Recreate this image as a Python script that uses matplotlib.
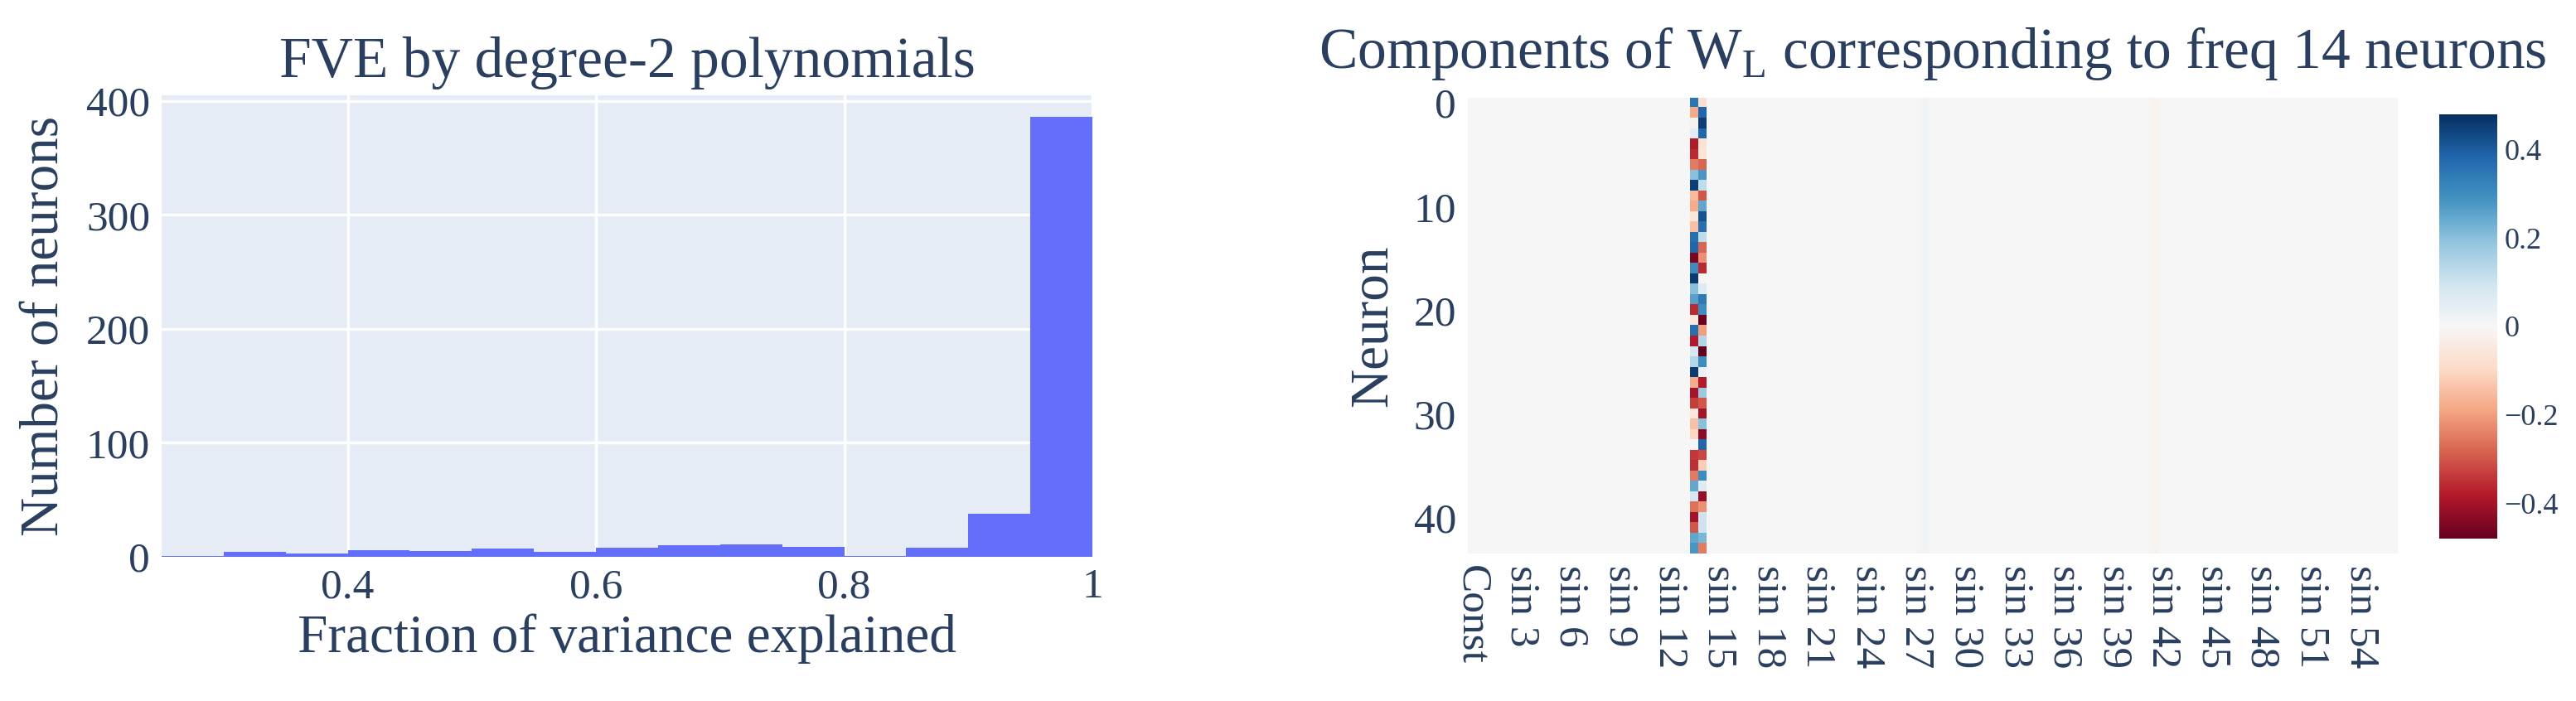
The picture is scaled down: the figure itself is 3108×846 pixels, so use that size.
import numpy as np
import matplotlib
matplotlib.use("Agg")
import matplotlib.pyplot as plt

plt.rcParams['font.family'] = ['Liberation Serif', 'DejaVu Serif']
plt.rcParams['mathtext.fontset'] = 'custom'
plt.rcParams['mathtext.rm'] = 'Liberation Serif'
TXT = '#2A3F5F'

# histogram data
bin_edges = [0.25, 0.30, 0.35, 0.40, 0.45, 0.50, 0.55, 0.60, 0.65, 0.70, 0.75, 0.80, 0.85, 0.90, 0.95, 1.00]
bin_counts = [1, 4, 3, 6, 5, 7, 4, 8, 10, 11, 9, 1, 8, 38, 386]

# heatmap data
n_neurons = 44
n_freq = 56
col_labels = ['Const'] + [f'{t} {k}' for k in range(1, n_freq + 1) for t in ('cos', 'sin')]
cos14 = [0.35, -0.18, -0.02, 0.05, -0.38, -0.36, -0.25, 0.2, 0.45, -0.15, -0.18, -0.06, -0.14, 0.36,
         0.38, -0.45, 0.3, 0.46, 0.2, 0.26, -0.36, -0.05, 0.36, -0.38, 0.08, 0.14, 0.46, -0.18,
         -0.4, -0.33, -0.05, -0.14, -0.1, 0.0, -0.34, -0.35, -0.25, 0.25, 0.08, -0.26, -0.4, -0.3, 0.25, 0.28]
sin14 = [-0.08, 0.38, 0.45, 0.38, -0.07, -0.06, -0.28, 0.28, 0.12, -0.3, 0.25, 0.42, 0.36, 0.12,
         -0.28, -0.22, -0.36, -0.01, 0.06, 0.34, 0.3, -0.47, -0.2, 0.14, -0.48, 0.3, 0.03, -0.38,
         0.18, -0.3, -0.4, 0.2, -0.43, 0.38, -0.32, -0.12, 0.3, 0.06, -0.42, -0.22, 0.1, 0.1, 0.22, -0.25]
faint_cols = {'cos 28': 0.012, 'sin 27': -0.005, 'cos 42': -0.018, 'sin 41': -0.006}

idx = {l: i for i, l in enumerate(col_labels)}
Z = np.zeros((n_neurons, len(col_labels)))
Z[:, idx['cos 14']] = cos14
Z[:, idx['sin 14']] = sin14
for k, v in faint_cols.items():
    Z[:, idx[k]] = v

W, H = 3108, 846
fig = plt.figure(figsize=(W / 100, H / 100), dpi=100)

# left: histogram
ax = fig.add_axes([195 / W, 1 - 672 / H, (1318 - 195) / W, (672 - 115) / H])
ax.set_facecolor('#E5ECF6')
ax.stairs(bin_counts, bin_edges, fill=True, color='#636EFA')
ax.set_xlim(0.25, 1.0)
ax.set_ylim(0, 405)
ax.set_xticks([0.4, 0.6, 0.8, 1.0])
ax.set_xticklabels(['0.4', '0.6', '0.8', '1'])
ax.set_yticks([0, 100, 200, 300, 400])
ax.grid(True, color='white', linewidth=2.5)
ax.set_axisbelow(True)
for s in ax.spines.values():
    s.set_visible(False)
ax.tick_params(length=0, labelsize=37, colors=TXT, pad=10)
ax.set_xlabel('Fraction of variance explained', fontsize=47, color=TXT, labelpad=6)
ax.set_ylabel('Number of neurons', fontsize=47, color=TXT, labelpad=14)
ax.set_title('FVE by degree-2 polynomials', fontsize=50, color=TXT, pad=16)

# right: heatmap
ax2 = fig.add_axes([1771 / W, 1 - 668 / H, (2893 - 1771) / W, (668 - 118) / H])
im = ax2.imshow(Z, cmap='RdBu', vmin=-0.48, vmax=0.48, aspect='auto', interpolation='nearest')
xt = list(range(0, len(col_labels), 6))
ax2.set_xticks(xt)
ax2.set_xticklabels([col_labels[i] for i in xt], rotation=-90, fontsize=37, color=TXT)
ax2.set_yticks([0, 10, 20, 30, 40])
ax2.tick_params(length=0, labelsize=37, colors=TXT, pad=10)
for s in ax2.spines.values():
    s.set_visible(False)
ax2.set_ylabel('Neuron', fontsize=47, color=TXT, labelpad=14)
ax2.set_title(r'Components of W$_\mathrm{L}$ corresponding to freq 14 neurons', fontsize=50, color=TXT, pad=26)

cax = fig.add_axes([2943 / W, 1 - 650 / H, (3013 - 2943) / W, (650 - 138) / H])
cb = fig.colorbar(im, cax=cax)
cb.set_ticks([-0.4, -0.2, 0, 0.2, 0.4])
cb.set_ticklabels(['−0.4', '−0.2', '0', '0.2', '0.4'])
cb.outline.set_visible(False)
cb.ax.tick_params(length=0, labelsize=26, colors=TXT, pad=6)

fig.savefig('out.png', dpi=100)
